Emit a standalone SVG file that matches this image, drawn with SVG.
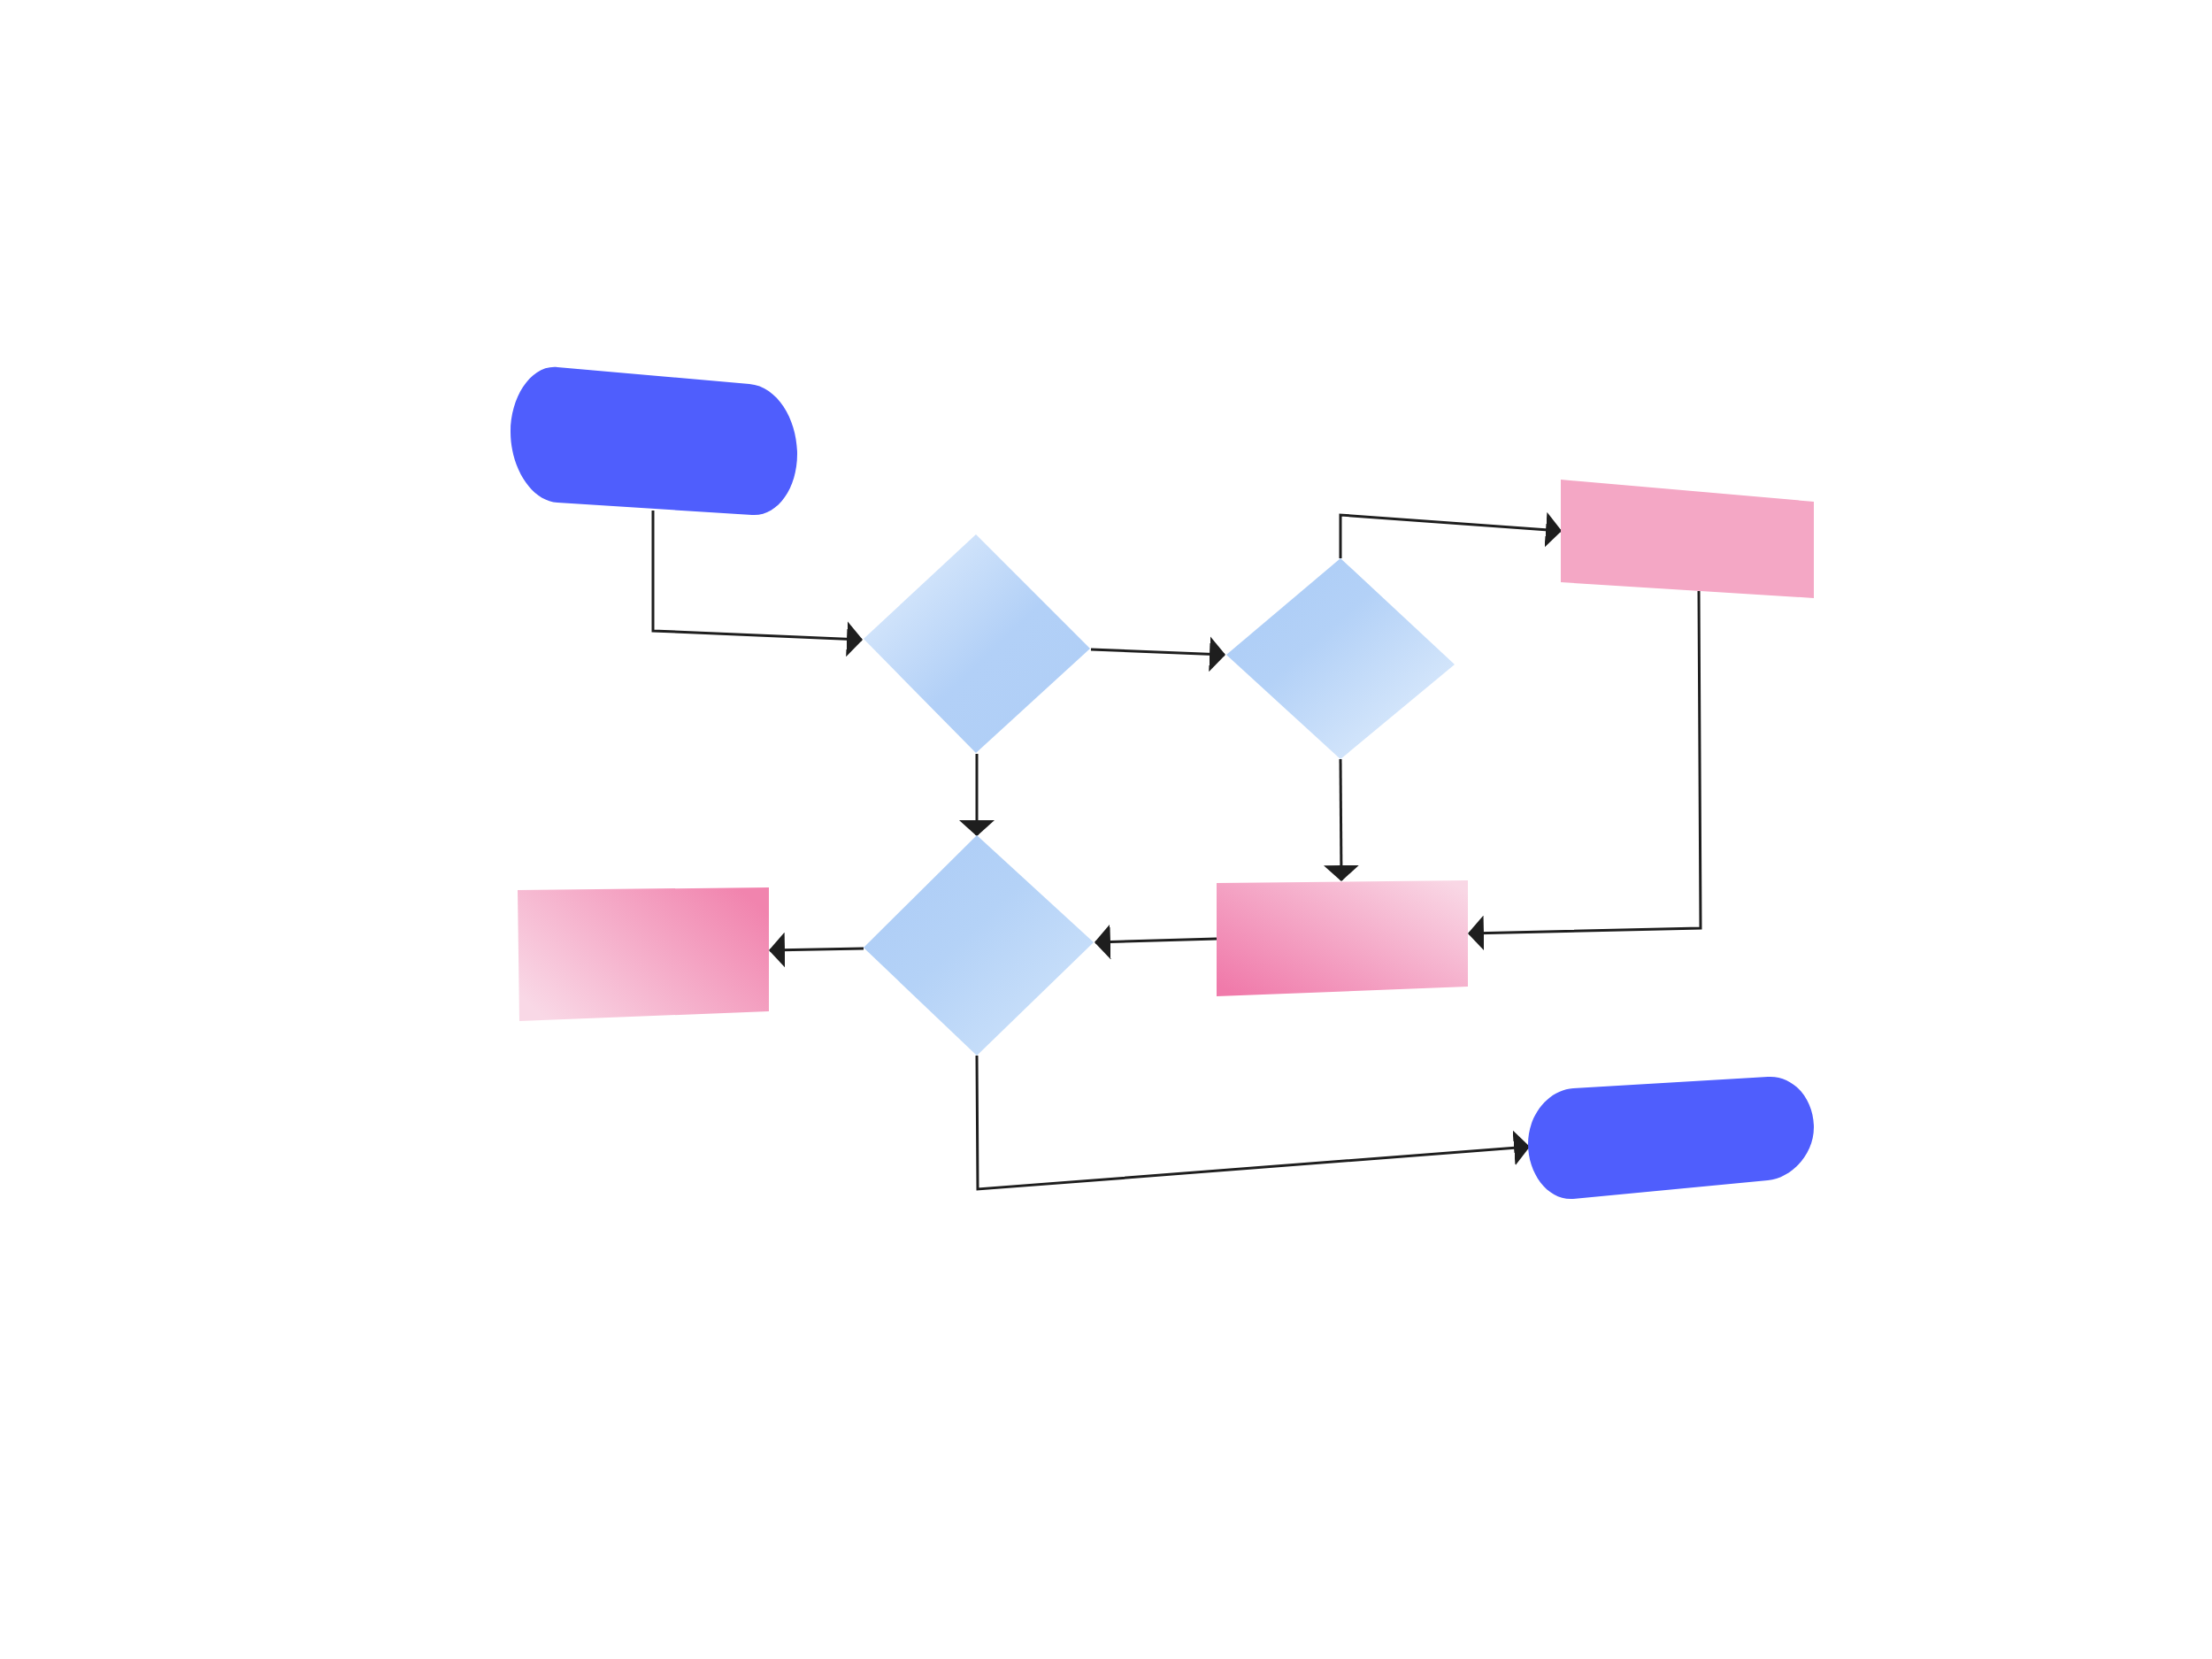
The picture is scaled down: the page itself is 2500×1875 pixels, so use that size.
<svg xmlns="http://www.w3.org/2000/svg" width="2500" height="1875" viewBox="0 0 2500 1875">
<defs>
<style>
.term{fill:#4F5EFD}
.conn{fill:none;stroke:#1e1e1e;stroke-width:3;stroke-linejoin:miter}
</style>
<marker id="arr" markerUnits="userSpaceOnUse" markerWidth="18" markerHeight="40" viewBox="0 0 18 40" refX="17" refY="20" orient="auto">
<path d="M0,0 L18,20 L0,40 Z" fill="#1e1e1e"/>
</marker>
<linearGradient id="gD1" x1="0" y1="0" x2="1" y2="1">
<stop offset="0" stop-color="#E6F1FD"/>
<stop offset="0.55" stop-color="#B2D0F7"/>
<stop offset="1" stop-color="#AFCEF6"/>
</linearGradient>
<linearGradient id="gD2" x1="0" y1="0" x2="1" y2="1">
<stop offset="0" stop-color="#AACBF6"/>
<stop offset="0.4" stop-color="#B3D1F7"/>
<stop offset="1" stop-color="#E6F1FD"/>
</linearGradient>
<linearGradient id="gD3" x1="0" y1="0" x2="1" y2="1">
<stop offset="0" stop-color="#ABCBF6"/>
<stop offset="0.45" stop-color="#B4D2F7"/>
<stop offset="1" stop-color="#D3E6FB"/>
</linearGradient>
<linearGradient id="gR2" x1="0" y1="0.9" x2="1" y2="0.1">
<stop offset="0" stop-color="#F07AAA"/>
<stop offset="1" stop-color="#F9D7E5"/>
</linearGradient>
<linearGradient id="gR3" x1="0" y1="0.8" x2="1" y2="0.2">
<stop offset="0" stop-color="#F9D8E6"/>
<stop offset="1" stop-color="#F184AE"/>
</linearGradient>
</defs>
<rect width="2500" height="1875" fill="#FFFFFF"/>
<g id="connectors">
<polyline class="conn" points="738,577 738,713 974,723" marker-end="url(#arr)"/>
<polyline class="conn" points="1233,734 1384,740" marker-end="url(#arr)"/>
<polyline class="conn" points="1515,631 1515,582 1764,600" marker-end="url(#arr)"/>
<polyline class="conn" points="1104,852 1104,944" marker-end="url(#arr)"/>
<polyline class="conn" points="1515,858 1516,995" marker-end="url(#arr)"/>
<polyline class="conn" points="1920,668 1922,1049 1660,1055" marker-end="url(#arr)"/>
<polyline class="conn" points="1375,1061 1238,1065" marker-end="url(#arr)"/>
<polyline class="conn" points="976,1072 870,1074" marker-end="url(#arr)"/>
<polyline class="conn" points="1104,1193 1105,1344 1728,1296" marker-end="url(#arr)"/>
</g>
<g id="start">
<path class="term" d="M630,415 L847,434 C880,437 901,476 901,513 C901,553 878,584 850,582 L630,568 C600,566 577,528 577,488 C577,449 600,412 630,415 Z"/>
</g>
<g id="decision1">
<polygon points="1103,604 1232,733 1103,851 976,722" fill="url(#gD1)"/>
</g>
<g id="decision2">
<polygon points="1515,631 1644,751 1515,858 1386,740" fill="url(#gD2)"/>
</g>
<g id="decision3">
<polygon points="1104,944 1236,1065 1104,1193 976,1071" fill="url(#gD3)"/>
</g>
<g id="process1">
<polygon points="1764,542 2050,567 2050,676 1764,658" fill="#F4A7C5"/>
</g>
<g id="process2">
<polygon points="1375,998 1659,995 1659,1115 1375,1126" fill="url(#gR2)"/>
</g>
<g id="process3">
<polygon points="585,1006 869,1003 869,1143 587,1154" fill="url(#gR3)"/>
</g>
<g id="end">
<path class="term" d="M1778,1230 L1998,1217 C2027,1215 2050,1242 2050,1274 C2050,1305 2025,1331 1998,1334 L1778,1355 C1750,1357 1727,1327 1727,1293 C1727,1260 1750,1232 1778,1230 Z"/>
</g>
</svg>
